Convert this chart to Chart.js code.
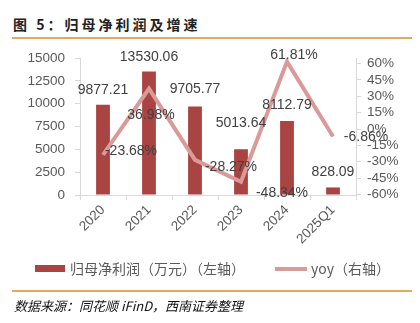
<!DOCTYPE html>
<html>
<head>
<meta charset="utf-8">
<script src="https://cdn.jsdelivr.net/npm/chart.js@4.4.1/dist/chart.umd.min.js"></script>
<style>
  html, body { margin: 0; padding: 0; background: #fff; }
  body { width: 420px; height: 323px; position: relative; overflow: hidden;
         font-family: "Liberation Sans", Arial, "Noto Sans CJK SC", sans-serif; }
  .title { position: absolute; left: 13px; top: 14px; font-size: 14px; font-weight: bold;
           color: #222; letter-spacing: 3px; font-family: "Noto Sans CJK SC", sans-serif; }
  .rule { position: absolute; left: 12px; width: 400px; height: 2px; background: #E2A85E; }
  #wrap { position: absolute; left: 0; top: 40px; width: 420px; height: 220px; }
  .legend { position: absolute; top: 259px; left: 0; width: 420px; height: 20px;
            font-size: 14px; color: #595959; font-family: "Noto Sans CJK SC", sans-serif; }
  .legend span { position: absolute; }
  .source { position: absolute; left: 14px; top: 296px; font-size: 13px; font-style: italic;
            color: #111; font-family: "Noto Sans CJK SC", sans-serif; }
</style>
</head>
<body>
<div class="title">图 5：归母净利润及增速</div>
<div class="rule" style="top:37px"></div>
<div id="wrap"><canvas id="c" width="420" height="220"></canvas></div>
<div class="legend">
  <span style="left:35px;top:6px;width:30px;height:7px;background:#A94442"></span>
  <span style="left:70px;top:-1px">归母净利润（万元）（左轴）</span>
  <span style="left:275px;top:8px;width:32px;height:4px;background:#D99A98"></span>
  <span style="left:311px;top:-1px">yoy（右轴）</span>
</div>
<div class="rule" style="top:290px"></div>
<div class="source">数据来源：同花顺 iFinD，西南证券整理</div>
<script>
// Categories and series
const categories = ['2020', '2021', '2022', '2023', '2024', '2025Q1'];
const netProfit = [9877.21, 13530.06, 9705.77, 5013.64, 8112.79, 828.09];   // 万元
const yoy = [-23.68, 36.98, -28.27, -48.34, 61.81, -6.86];                  // %
const leftTicks = [0, 2500, 5000, 7500, 10000, 12500, 15000];
const rightTicks = [-60, -45, -30, -15, 0, 15, 30, 45, 60];

// label placement (offsets of label centre from the mark)
const barLabelGap = [14.5, 14.5, 17, 26, 16, 15];
const lineLabelOffset = [[28, -4], [2, 26], [36, 7], [41, 11], [7, -6], [33, 1]];

const fmtBar = v => v.toFixed(2);
const fmtPct = v => v.toFixed(2) + '%';

const valueLabels = {
  id: 'valueLabels',
  afterDatasetsDraw(chart) {
    const ctx = chart.ctx;
    ctx.save();
    ctx.font = '14px "Liberation Sans", Arial, sans-serif';
    ctx.fillStyle = '#404040';
    ctx.textAlign = 'center';
    ctx.textBaseline = 'middle';
    chart.getDatasetMeta(0).data.forEach((el, i) => {
      ctx.fillText(fmtBar(netProfit[i]), el.x, el.y - barLabelGap[i]);
    });
    chart.getDatasetMeta(1).data.forEach((el, i) => {
      const [dx, dy] = lineLabelOffset[i];
      ctx.fillText(fmtPct(yoy[i]), el.x + dx, el.y + dy);
    });
    ctx.restore();
  }
};

const tickFont = { family: '"Liberation Sans", Arial, sans-serif', size: 13.5 };
const axisGrid = { drawOnChartArea: false, color: '#D9D9D9', tickLength: 5, tickColor: '#D9D9D9' };
const axisBorder = { display: true, color: '#D9D9D9', width: 1 };

new Chart(document.getElementById('c'), {
  data: {
    labels: categories,
    datasets: [
      {
        type: 'bar', label: '归母净利润（万元）（左轴）', data: netProfit,
        backgroundColor: '#A94442', yAxisID: 'y', order: 2,
        barPercentage: 0.3, categoryPercentage: 1.0
      },
      {
        type: 'line', label: 'yoy（右轴）', data: yoy,
        borderColor: '#D99A98', borderWidth: 4, pointRadius: 0, tension: 0,
        yAxisID: 'y1', order: 1, borderJoinStyle: 'miter'
      }
    ]
  },
  options: {
    responsive: false, animation: false, devicePixelRatio: 1,
    layout: { padding: { top: 16, left: 0, right: 0, bottom: 0 } },
    plugins: { legend: { display: false }, tooltip: { enabled: false } },
    scales: {
      x: {
        offset: true,
        grid: { ...axisGrid, offset: true },
        border: axisBorder,
        ticks: { font: tickFont, color: '#595959', minRotation: 45, maxRotation: 45,
                 padding: 2, autoSkip: false },
        afterFit: s => { s.height = 65; }
      },
      y: {
        position: 'left', min: 0, max: 15000,
        grid: axisGrid, border: axisBorder,
        ticks: { font: tickFont, color: '#595959', padding: 10, autoSkip: false,
                 callback: v => String(v) },
        afterBuildTicks: s => { s.ticks = leftTicks.map(v => ({ value: v })); },
        afterFit: s => { s.width = 80; }
      },
      y1: {
        position: 'right', min: -60.5, max: 65,
        grid: axisGrid, border: axisBorder,
        ticks: { font: tickFont, color: '#595959', padding: 6, autoSkip: false,
                 callback: v => v + '%' },
        afterBuildTicks: s => { s.ticks = rightTicks.map(v => ({ value: v })); },
        afterFit: s => { s.width = 64; }
      }
    }
  },
  plugins: [valueLabels]
});
</script>
</body>
</html>
